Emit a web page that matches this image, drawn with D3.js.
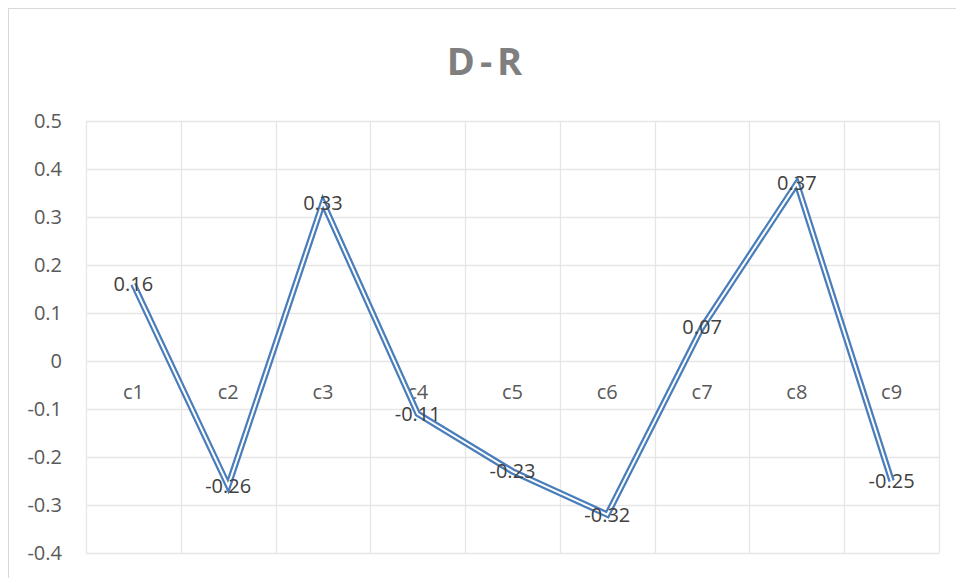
<!DOCTYPE html>
<html>
<head>
<meta charset="utf-8">
<script src="https://cdn.jsdelivr.net/npm/d3@7"></script>
<style>
  body { margin: 0; background: #fff; }
  text { font-family: "Open Sans", sans-serif; }
</style>
</head>
<body>
<div id="chart"></div>
<script>
// Chart data
const categories = ["c1", "c2", "c3", "c4", "c5", "c6", "c7", "c8", "c9"];
const values = [0.16, -0.26, 0.33, -0.11, -0.23, -0.32, 0.07, 0.37, -0.25];
const yTicks = [0.5, 0.4, 0.3, 0.2, 0.1, 0, -0.1, -0.2, -0.3, -0.4];

const W = 956, H = 578;
const margin = { top: 121, right: 17, bottom: 25, left: 86 };
const width = W - margin.left - margin.right;
const height = H - margin.top - margin.bottom;

// plain hyphen instead of d3's unicode minus
const fmt1 = d => d === 0 ? "0" : d.toFixed(1);
const fmt2 = d => d.toFixed(2);

const svg = d3.select("#chart")
    .append("svg")
    .attr("width", W)
    .attr("height", H);

// Chart area border
svg.append("rect")
    .attr("x", 8.5)
    .attr("y", 8.5)
    .attr("width", W + 10)
    .attr("height", H + 10)
    .attr("fill", "none")
    .attr("stroke", "#d9d9d9");

const g = svg.append("g")
    .attr("transform", `translate(${margin.left},${margin.top})`);

const x = d3.scaleBand()
    .domain(categories)
    .range([0, width]);

const y = d3.scaleLinear()
    .domain([-0.4, 0.5])
    .range([height, 0]);

// Horizontal gridlines
g.selectAll(".hgrid")
    .data(yTicks)
    .enter()
    .append("line")
    .attr("x1", 0)
    .attr("x2", width)
    .attr("y1", d => Math.round(y(d)) + 0.5)
    .attr("y2", d => Math.round(y(d)) + 0.5)
    .attr("stroke", "#e6e6e6")
    .attr("stroke-width", 1.3);

// Vertical gridlines at band edges
const edges = categories.map(c => x(c)).concat([width]);
g.selectAll(".vgrid")
    .data(edges)
    .enter()
    .append("line")
    .attr("x1", d => Math.round(d) + 0.5)
    .attr("x2", d => Math.round(d) + 0.5)
    .attr("y1", 0)
    .attr("y2", height)
    .attr("stroke", "#e6e6e6")
    .attr("stroke-width", 1.3);

// Y axis labels
const yAxis = g.append("g")
    .call(d3.axisLeft(y).tickValues(yTicks).tickSize(0).tickPadding(24)
        .tickFormat(fmt1));
yAxis.select(".domain").remove();
yAxis.selectAll("text")
    .attr("font-size", "20px")
    .attr("fill", "#595959")
    .style("font-family", "'Open Sans', sans-serif");

// Category labels sit just below the zero line
g.selectAll(".cat")
    .data(categories)
    .enter()
    .append("text")
    .attr("x", d => x(d) + x.bandwidth() / 2)
    .attr("y", y(0) + 38)
    .attr("text-anchor", "middle")
    .attr("font-size", "20px")
    .attr("fill", "#595959")
    .text(d => d);

// Double line: blue outer stroke with white core
const line = d3.line()
    .x((d, i) => x(categories[i]) + x.bandwidth() / 2)
    .y(d => y(d));

g.append("path")
    .datum(values)
    .attr("d", line)
    .attr("fill", "none")
    .attr("stroke", "#4a7ebb")
    .attr("stroke-width", 6.5)
    .attr("stroke-linejoin", "miter");

g.append("path")
    .datum(values)
    .attr("d", line)
    .attr("fill", "none")
    .attr("stroke", "#ffffff")
    .attr("stroke-width", 2)
    .attr("stroke-linejoin", "miter");

// Data labels centred on the points
g.selectAll(".lbl")
    .data(values)
    .enter()
    .append("text")
    .attr("x", (d, i) => x(categories[i]) + x.bandwidth() / 2)
    .attr("y", d => y(d))
    .attr("dy", "0.35em")
    .attr("text-anchor", "middle")
    .attr("font-size", "20px")
    .attr("fill", "#404040")
    .text(fmt2);

// Title
svg.append("text")
    .attr("x", 487)
    .attr("y", 75)
    .attr("text-anchor", "middle")
    .attr("font-size", "38px")
    .attr("font-weight", "bold")
    .attr("letter-spacing", "5px")
    .attr("fill", "#7f7f7f")
    .text("D-R");
</script>
</body>
</html>
